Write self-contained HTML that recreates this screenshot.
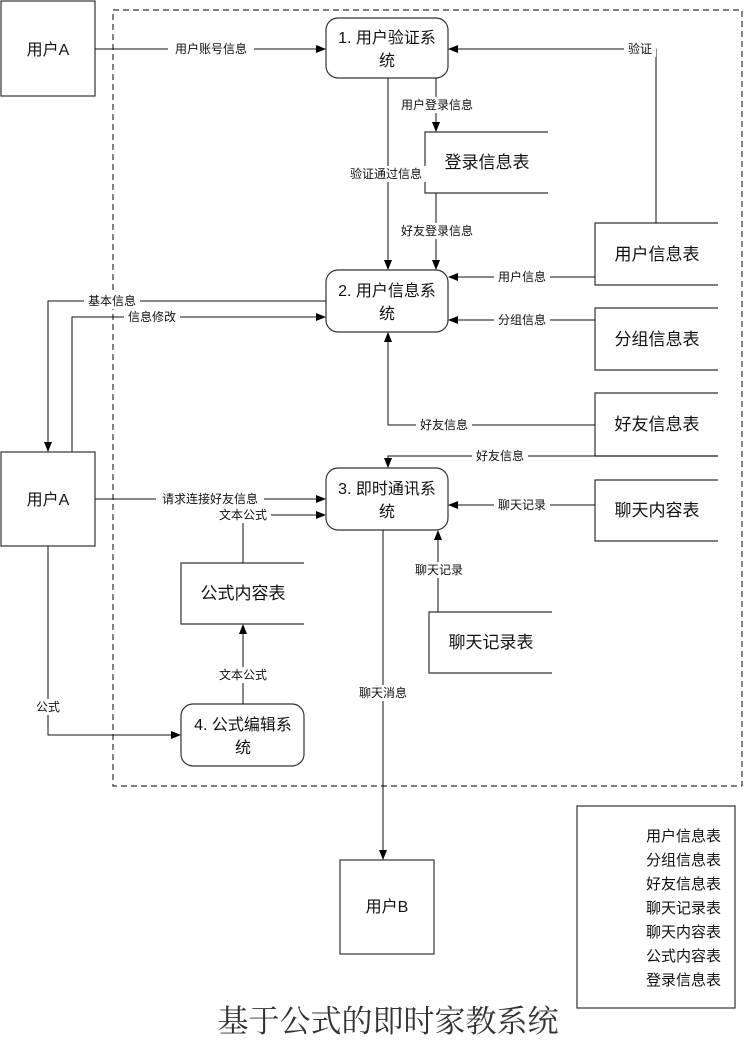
<!DOCTYPE html>
<html><head><meta charset="utf-8"><style>
html,body{margin:0;padding:0;background:#fff;}
svg{display:block;}
text{font-family:"Liberation Sans","Noto Sans CJK SC",sans-serif;fill:#111;}
.l{font-size:12px;}
.n{font-size:16px;}
.t{font-size:17px;}
</style></head><body>
<svg width="744" height="1054" viewBox="0 0 744 1054" xmlns="http://www.w3.org/2000/svg">
<defs><marker id="a" markerWidth="10" markerHeight="10" refX="9" refY="5" orient="auto" markerUnits="userSpaceOnUse"><path d="M0,1 L10,5 L0,9 z" fill="#000"/></marker></defs>
<g fill="none" stroke="#333" stroke-width="1.2">
<rect x="113" y="10" width="629" height="776" stroke-dasharray="6,4"/>
<rect x="1" y="1" width="94" height="95"/>
<rect x="1" y="452" width="94" height="94"/>
<rect x="340" y="860" width="94" height="94"/>
<rect x="577" y="806" width="158" height="202"/>
<rect x="326" y="18" width="122" height="60" rx="12"/>
<rect x="326" y="270" width="122" height="62" rx="12"/>
<rect x="326" y="468" width="122" height="62" rx="12"/>
<rect x="181" y="704" width="123" height="62" rx="12"/>
<path d="M548,132 H425 V193 H548"/>
<path d="M718,223 H595 V285 H718"/>
<path d="M718,308 H595 V370 H718"/>
<path d="M718,393 H595 V456 H718"/>
<path d="M718,480 H595 V541 H718"/>
<path d="M304,563 H181 V624 H304"/>
<path d="M552,612 H429 V673 H552"/>
</g>
<g fill="none" stroke="#111" stroke-width="1" marker-end="url(#a)">
<path d="M95,49 H325"/>
<path d="M656,223 V49 H449"/>
<path d="M436,78 V131"/>
<path d="M388,78 V269"/>
<path d="M436,193 V269"/>
<path d="M595,277 H449"/>
<path d="M595,320 H449"/>
<path d="M326,301 H48 V451"/>
<path d="M72,452 V317 H325"/>
<path d="M595,425 H388 V333"/>
<path d="M718,456 H388 V467"/>
<path d="M95,499 H325"/>
<path d="M243,563 V515 H325"/>
<path d="M595,505 H449"/>
<path d="M438,612 V531"/>
<path d="M243,704 V625"/>
<path d="M48,546 V735 H180"/>
<path d="M383,530 V859"/>
</g>
<g class="l" text-anchor="middle" dominant-baseline="central">
<rect x="168" y="41" width="86" height="16" fill="#fff"/><text x="211" y="49">用户账号信息</text>
<rect x="624" y="41" width="32" height="16" fill="#fff"/><text x="640" y="49">验证</text>
<rect x="395" y="97" width="82" height="16" fill="#fff"/><text x="437" y="105">用户登录信息</text>
<rect x="346" y="166" width="80" height="16" fill="#fff"/><text x="386" y="174">验证通过信息</text>
<rect x="395" y="223" width="82" height="16" fill="#fff"/><text x="437" y="231">好友登录信息</text>
<rect x="494" y="269" width="56" height="16" fill="#fff"/><text x="522" y="277">用户信息</text>
<rect x="494" y="312" width="56" height="16" fill="#fff"/><text x="522" y="320">分组信息</text>
<rect x="84" y="293" width="56" height="16" fill="#fff"/><text x="112" y="301">基本信息</text>
<rect x="124" y="309" width="56" height="16" fill="#fff"/><text x="152" y="317">信息修改</text>
<rect x="416" y="417" width="56" height="16" fill="#fff"/><text x="444" y="425">好友信息</text>
<rect x="472" y="448" width="56" height="16" fill="#fff"/><text x="500" y="456">好友信息</text>
<rect x="156" y="491" width="108" height="16" fill="#fff"/><text x="210" y="499">请求连接好友信息</text>
<rect x="215" y="507" width="56" height="16" fill="#fff"/><text x="243" y="515">文本公式</text>
<rect x="494" y="497" width="56" height="16" fill="#fff"/><text x="522" y="505">聊天记录</text>
<rect x="412" y="562" width="54" height="16" fill="#fff"/><text x="439" y="570">聊天记录</text>
<rect x="215" y="667" width="56" height="16" fill="#fff"/><text x="243" y="675">文本公式</text>
<rect x="32" y="699" width="32" height="16" fill="#fff"/><text x="48" y="707">公式</text>
<rect x="356" y="685" width="54" height="16" fill="#fff"/><text x="383" y="693">聊天消息</text>
</g>
<g class="n" text-anchor="middle">
<text x="48" y="55">用户A</text>
<text x="48" y="505">用户A</text>
<text x="387" y="912">用户B</text>
<text x="387" y="43">1. 用户验证系</text><text x="387" y="66">统</text>
<text x="387" y="296">2. 用户信息系</text><text x="387" y="319">统</text>
<text x="387" y="494">3. 即时通讯系</text><text x="387" y="517">统</text>
<text x="243" y="730">4. 公式编辑系</text><text x="243" y="753">统</text>
</g>
<g class="t" text-anchor="middle">
<text x="487" y="168">登录信息表</text>
<text x="657" y="260">用户信息表</text>
<text x="657" y="345">分组信息表</text>
<text x="657" y="430">好友信息表</text>
<text x="657" y="516">聊天内容表</text>
<text x="243" y="599">公式内容表</text>
<text x="491" y="648">聊天记录表</text>
</g>
<g font-size="15" text-anchor="end">
<text x="721" y="841">用户信息表</text>
<text x="721" y="865">分组信息表</text>
<text x="721" y="889">好友信息表</text>
<text x="721" y="913">聊天记录表</text>
<text x="721" y="937">聊天内容表</text>
<text x="721" y="961">公式内容表</text>
<text x="721" y="985">登录信息表</text>
</g>
<text x="388" y="1032" text-anchor="middle" font-size="31" style="font-family:'Liberation Serif','Noto Serif CJK SC',serif;fill:#333">基于公式的即时家教系统</text>
</svg>
</body></html>
